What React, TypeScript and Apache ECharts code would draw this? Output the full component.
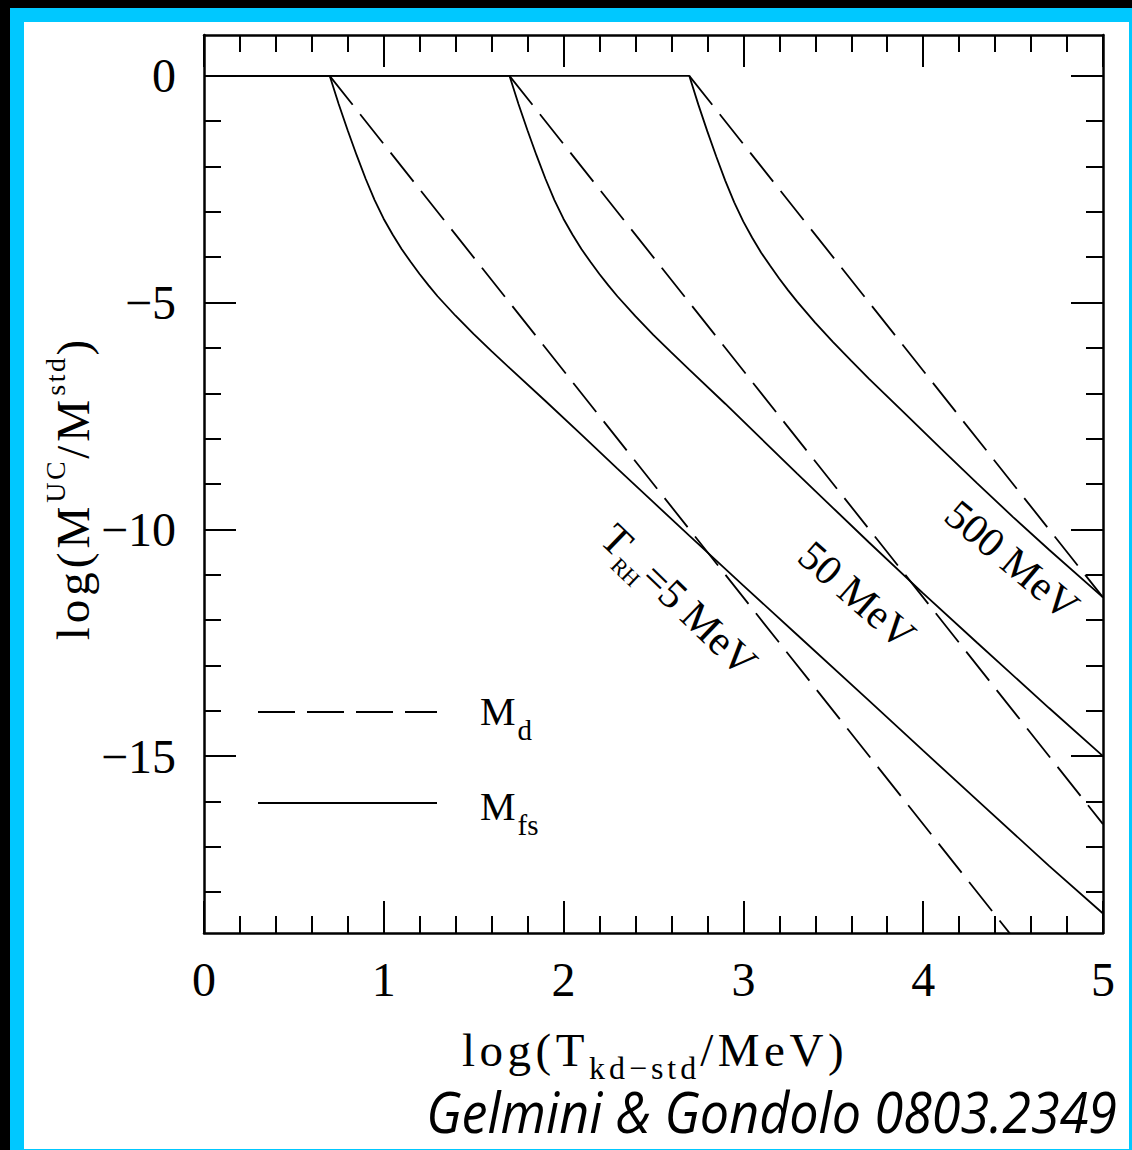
import React, { useEffect, useRef } from 'react';
import * as echarts from 'echarts';

// ---------- data ----------
const X_RANGE = [0, 5];
const Y_RANGE = [-18.9, 0.9];

const xMajorTicks = [0, 1, 2, 3, 4, 5];
const xMinorTicks = [0.2, 0.4, 0.6, 0.8, 1.2, 1.4, 1.6, 1.8, 2.2, 2.4, 2.6, 2.8, 3.2, 3.4, 3.6, 3.8, 4.2, 4.4, 4.6, 4.8];
const xTickLabels = ['0', '1', '2', '3', '4', '5'];

const yMajorTicks = [0, -5, -10, -15];
const yMinorTicks = [-1, -2, -3, -4, -6, -7, -8, -9, -11, -12, -13, -14, -16, -17, -18];
const yTickLabels = ['0', '−5', '−10', '−15'];

const curveLabels = ['=5 MeV', '50 MeV', '500 MeV'];

// M_fs (solid) for T_RH = 5, 50, 500 MeV
const mfs5: [number, number][] = [
  [0, 0], [0.699, 0], [0.749, -0.62], [0.799, -1.2], [0.849, -1.75], [0.899, -2.27], [0.949, -2.74],
  [0.999, -3.15], [1.049, -3.5], [1.099, -3.82], [1.149, -4.1], [1.199, -4.37], [1.249, -4.62],
  [1.299, -4.86], [1.399, -5.29], [1.499, -5.69], [1.599, -6.07], [1.699, -6.44], [1.899, -7.17],
  [2.099, -7.91], [2.299, -8.66], [2.499, -9.4], [2.699, -10.14], [3.0, -11.24], [3.3, -12.33],
  [3.7, -13.78], [4.0, -14.88], [4.3, -15.97], [4.7, -17.42], [5.0, -18.47],
];
const mfs50: [number, number][] = [
  [0, 0], [1.699, 0], [1.749, -0.62], [1.799, -1.2], [1.849, -1.75], [1.899, -2.27], [1.949, -2.74],
  [1.999, -3.15], [2.049, -3.5], [2.099, -3.82], [2.149, -4.1], [2.199, -4.37], [2.249, -4.62],
  [2.299, -4.86], [2.399, -5.3], [2.499, -5.71], [2.599, -6.1], [2.699, -6.48], [2.899, -7.23],
  [3.099, -8.0], [3.299, -8.77], [3.499, -9.53], [3.699, -10.29], [4.0, -11.41], [4.3, -12.5],
  [4.7, -13.94], [5.0, -15.0],
];
const mfs500: [number, number][] = [
  [0, 0], [2.699, 0], [2.749, -0.63], [2.799, -1.22], [2.849, -1.78], [2.899, -2.31], [2.949, -2.79],
  [2.999, -3.21], [3.049, -3.57], [3.099, -3.9], [3.149, -4.19], [3.199, -4.47], [3.249, -4.73],
  [3.299, -4.98], [3.399, -5.44], [3.499, -5.87], [3.599, -6.28], [3.699, -6.68], [3.899, -7.45],
  [4.099, -8.22], [4.299, -8.98], [4.5, -9.73], [4.7, -10.45], [5.0, -11.5],
];

// M_d (dashed)
const md5: [number, number][] = [[0.699, 0], [4.6, -19.5]];
const md50: [number, number][] = [[1.699, 0], [5.0, -16.5]];
const md500: [number, number][] = [[2.699, 0], [5.0, -11.5]];

// ---------- styling ----------
const SERIF = "'Liberation Serif', 'DejaVu Serif', serif";
const SANS = "'Open Sans', 'Noto Sans', sans-serif";
const DASH = [37, 12];

const tok = (fontSize: number, lineHeight: number, padTop: number, padRight = 0, padLeft = 0) => ({
  fontSize,
  lineHeight,
  padding: [padTop, padRight, 0, padLeft],
  verticalAlign: 'top',
  fontFamily: SERIF,
  fontWeight: 'normal',
  fill: '#000',
});

// one rich token per glyph so that the glyphs can be spaced apart
const spaced = (s: string, name: string) =>
  Array.from(s)
    .map((c) => `{${name}|${c}}`)
    .join('');

function xAxisDef(position: 'bottom' | 'top', ticks: number[], len: number, line: boolean, labels: boolean) {
  return {
    type: 'value',
    min: X_RANGE[0],
    max: X_RANGE[1],
    position,
    axisLine: { show: line, onZero: false, lineStyle: { color: '#000', width: 2.5 } },
    axisTick: { show: true, inside: true, length: len, customValues: ticks, lineStyle: { color: '#000', width: 2 } },
    axisLabel: labels
      ? {
          show: true,
          customValues: xMajorTicks,
          formatter: (v: number) => xTickLabels[xMajorTicks.indexOf(v)] ?? '',
          margin: 22,
          color: '#000',
          fontSize: 48,
          fontFamily: SERIF,
        }
      : { show: false },
    splitLine: { show: false },
  };
}

function yAxisDef(position: 'left' | 'right', ticks: number[], len: number, line: boolean, labels: boolean) {
  return {
    type: 'value',
    min: Y_RANGE[0],
    max: Y_RANGE[1],
    position,
    axisLine: { show: line, onZero: false, lineStyle: { color: '#000', width: 2.5 } },
    axisTick: { show: true, inside: true, length: len, customValues: ticks, lineStyle: { color: '#000', width: 2 } },
    axisLabel: labels
      ? {
          show: true,
          customValues: yMajorTicks,
          formatter: (v: number) => yTickLabels[yMajorTicks.indexOf(v)] ?? '',
          margin: 28,
          color: '#000',
          fontSize: 48,
          fontFamily: SERIF,
        }
      : { show: false },
    splitLine: { show: false },
  };
}

function lineSeries(name: string, data: [number, number][], dashed: boolean) {
  return {
    type: 'line',
    name,
    data,
    xAxisIndex: 0,
    yAxisIndex: 0,
    symbol: 'none',
    showSymbol: false,
    clip: true,
    silent: true,
    lineStyle: { color: '#000', width: 1.8, type: dashed ? DASH : 'solid', cap: 'butt' },
    z: dashed ? 3 : 4,
  };
}

function buildOption() {
  const [t5, t50, t500] = curveLabels;
  const plain = { fontWeight: 'normal', fontFamily: SERIF, fill: '#000' };
  const graphic: any[] = [
    // x axis title
    {
      type: 'text',
      x: 655,
      y: 1050,
      style: {
        ...plain,
        text: spaced('log(T', 'a') + spaced('kd−std', 'b') + spaced('/MeV)', 'a'),
        align: 'center',
        verticalAlign: 'middle',
        rich: { a: tok(47, 47, 0, 4.5), b: tok(32, 32, 25, 4) },
      },
    },
    // y axis title
    {
      type: 'text',
      x: 57,
      y: 488,
      rotation: Math.PI / 2,
      style: {
        ...plain,
        text: spaced('log(M', 'a') + spaced('UC', 'p') + spaced('/M', 'a') + spaced('std', 'p') + spaced(')', 'a'),
        align: 'center',
        verticalAlign: 'middle',
        rich: { a: tok(47, 47, 16, 4), p: tok(28, 28, 8, 2.6) },
      },
    },
    // curve labels
    {
      type: 'text',
      x: 679,
      y: 600,
      rotation: -0.765,
      style: {
        ...plain,
        text: '{a|T}{s|RH}{a|' + t5 + '}',
        align: 'center',
        verticalAlign: 'middle',
        rich: { a: tok(42, 42, 0), s: tok(22, 22, 27) },
      },
    },
    {
      type: 'text',
      x: 857,
      y: 595,
      rotation: -0.72,
      style: { ...plain, text: t50, align: 'center', verticalAlign: 'middle', fontSize: 42 },
    },
    {
      type: 'text',
      x: 1012,
      y: 560,
      rotation: -0.7,
      style: { ...plain, text: t500, align: 'center', verticalAlign: 'middle', fontSize: 42 },
    },
    // legend
    {
      type: 'line',
      shape: { x1: 258, y1: 712, x2: 437, y2: 712 },
      style: { stroke: '#000', lineWidth: 1.8, lineDash: DASH },
    },
    {
      type: 'line',
      shape: { x1: 258, y1: 803, x2: 437, y2: 803 },
      style: { stroke: '#000', lineWidth: 1.8 },
    },
    {
      type: 'text',
      x: 480,
      y: 711,
      style: {
        ...plain,
        text: '{m|M}{s|d}',
        align: 'left',
        verticalAlign: 'middle',
        rich: { m: tok(40, 40, 0), s: tok(29, 29, 24, 0, 2) },
      },
    },
    {
      type: 'text',
      x: 480,
      y: 806,
      style: {
        ...plain,
        text: '{m|M}{s|fs}',
        align: 'left',
        verticalAlign: 'middle',
        rich: { m: tok(40, 40, 0), s: tok(29, 29, 24, 0, 2) },
      },
    },
    // citation
    {
      type: 'text',
      x: 1117,
      y: 1111,
      scaleX: 0.93,
      style: {
        text: 'Gelmini & Gondolo 0803.2349',
        align: 'right',
        verticalAlign: 'middle',
        fontSize: 56,
        fontStyle: 'italic',
        fontWeight: 500,
        fontFamily: SANS,
        fill: '#000',
      },
    },
  ];

  return {
    animation: false,
    backgroundColor: 'transparent',
    grid: { left: 204, top: 35, width: 899, height: 898, containLabel: false },
    xAxis: [
      xAxisDef('bottom', xMajorTicks, 32, true, true),
      xAxisDef('bottom', xMinorTicks, 17, false, false),
      xAxisDef('top', xMajorTicks, 32, true, false),
      xAxisDef('top', xMinorTicks, 17, false, false),
    ],
    yAxis: [
      yAxisDef('left', yMajorTicks, 32, true, true),
      yAxisDef('left', yMinorTicks, 17, false, false),
      yAxisDef('right', yMajorTicks, 32, true, false),
      yAxisDef('right', yMinorTicks, 17, false, false),
    ],
    series: [
      lineSeries('Md', md5, true),
      lineSeries('Md', md50, true),
      lineSeries('Md', md500, true),
      lineSeries('Mfs', mfs5, false),
      lineSeries('Mfs', mfs50, false),
      lineSeries('Mfs', mfs500, false),
    ],
    graphic,
  };
}

export default function App() {
  const ref = useRef<HTMLDivElement>(null);
  useEffect(() => {
    document.body.style.margin = '0';
    document.body.style.overflow = 'hidden';
    if (!ref.current) return;
    const chart = echarts.init(ref.current, null, { renderer: 'svg' });
    chart.setOption(buildOption() as any);
    return () => {
      chart.dispose();
    };
  }, []);
  return (
    <div style={{ position: 'absolute', left: 0, top: 0, width: 1132, height: 1150, background: '#000', overflow: 'hidden' }}>
      <div
        style={{
          position: 'absolute',
          left: 10,
          top: 8,
          width: 1122,
          height: 1142,
          boxSizing: 'border-box',
          background: '#fff',
          borderStyle: 'solid',
          borderColor: '#00c8ff',
          borderWidth: '14px 3px 1px 14px',
        }}
      />
      <div ref={ref} style={{ position: 'absolute', left: 0, top: 0, width: 1132, height: 1150 }} />
    </div>
  );
}
